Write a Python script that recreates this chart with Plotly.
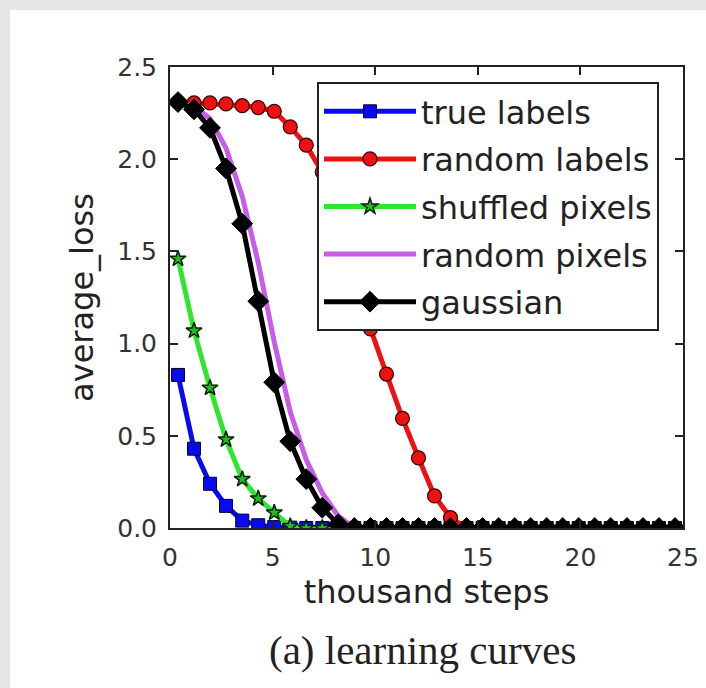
import plotly.graph_objects as go

# thousand steps (one point per epoch)
steps = [0.39, 1.17, 1.95, 2.73, 3.52, 4.30, 5.08, 5.86, 6.64, 7.42, 8.20, 8.98,
         9.77, 10.55, 11.33, 12.11, 12.89, 13.67, 14.45, 15.23, 16.02, 16.80,
         17.58, 18.36, 19.14, 19.92, 20.70, 21.48, 22.27, 23.05, 23.83, 24.61]

true_labels = [0.83, 0.43, 0.24, 0.12, 0.04, 0.015, 0.005, 0.002, 0.0, 0.0, 0.0, 0.0,
               0.0, 0.0, 0.0, 0.0, 0.0, 0.0, 0.0, 0.0, 0.0, 0.0,
               0.0, 0.0, 0.0, 0.0, 0.0, 0.0, 0.0, 0.0, 0.0, 0.0]
random_labels = [2.31, 2.305, 2.305, 2.30, 2.29, 2.28, 2.26, 2.175, 2.076, 1.93, 1.71, 1.40,
                 1.08, 0.835, 0.594, 0.38, 0.174, 0.056, 0.0, 0.0, 0.0, 0.0,
                 0.0, 0.0, 0.0, 0.0, 0.0, 0.0, 0.0, 0.0, 0.0, 0.0]
shuffled_pixels = [1.46, 1.07, 0.76, 0.48, 0.265, 0.16, 0.083, 0.01, 0.0, 0.0, 0.0, 0.0,
                   0.0, 0.0, 0.0, 0.0, 0.0, 0.0, 0.0, 0.0, 0.0, 0.0,
                   0.0, 0.0, 0.0, 0.0, 0.0, 0.0, 0.0, 0.0, 0.0, 0.0]
random_pixels = [2.31, 2.29, 2.22, 2.06, 1.80, 1.44, 1.01, 0.63, 0.37, 0.19, 0.065, 0.0,
                 0.0, 0.0, 0.0, 0.0, 0.0, 0.0, 0.0, 0.0, 0.0, 0.0,
                 0.0, 0.0, 0.0, 0.0, 0.0, 0.0, 0.0, 0.0, 0.0, 0.0]
gaussian = [2.31, 2.27, 2.17, 1.95, 1.65, 1.23, 0.79, 0.47, 0.265, 0.11, 0.02, 0.0,
            0.0, 0.0, 0.0, 0.0, 0.0, 0.0, 0.0, 0.0, 0.0, 0.0,
            0.0, 0.0, 0.0, 0.0, 0.0, 0.0, 0.0, 0.0, 0.0, 0.0]

x_ticks = [0, 5, 10, 15, 20, 25]
y_ticks = [0.0, 0.5, 1.0, 1.5, 2.0, 2.5]
y_tick_text = ["0.0", "0.5", "1.0", "1.5", "2.0", "2.5"]

W, H = 706, 688
L, R, T, B = 170, 23, 67, 160
pw, ph = W - L - R, H - T - B

def px(xp):
    return (xp - L) / pw

def py(yp):
    return (H - B - yp) / ph

fig = go.Figure()

fig.add_trace(go.Scatter(
    x=steps, y=true_labels, name="true labels", mode="lines+markers", legendgroup="a",
    line=dict(color="#0a0af0", width=5),
    marker=dict(symbol="square", size=13, color="#0a0af0", line=dict(color="#000033", width=1))))
fig.add_trace(go.Scatter(
    x=steps, y=random_labels, name="random labels", mode="lines+markers", legendgroup="b",
    line=dict(color="#ee1111", width=5),
    marker=dict(symbol="circle", size=14, color="#ee1111", line=dict(color="#330000", width=1.2))))
fig.add_trace(go.Scatter(
    x=steps, y=shuffled_pixels, name="shuffled pixels", mode="lines+markers", legendgroup="c",
    line=dict(color="#2ee62e", width=5),
    marker=dict(symbol="star", size=12, color="#22bb22", line=dict(color="#002200", width=1.5))))
fig.add_trace(go.Scatter(
    x=steps, y=random_pixels, name="random pixels", mode="lines", legendgroup="d",
    line=dict(color="#c75ce8", width=5)))
fig.add_trace(go.Scatter(
    x=steps, y=gaussian, name="gaussian", mode="lines+markers", legendgroup="e",
    line=dict(color="#000000", width=5),
    marker=dict(symbol="diamond", size=16, color="#000000", line=dict(color="#000000", width=1))))

axis_common = dict(
    showline=True, linewidth=2, linecolor="#222222", mirror="ticks",
    ticks="inside", ticklen=8, tickwidth=1.5, tickcolor="#222222",
    showgrid=False, zeroline=False,
    tickfont=dict(family="DejaVu Sans", size=25, color="#333333"),
)

fig.update_xaxes(range=[0, 25], tickvals=x_ticks, ticktext=[str(v) for v in x_ticks],
                 title=dict(text="thousand steps", standoff=10,
                            font=dict(family="DejaVu Sans", size=32, color="#222222")),
                 ticklabelstandoff=6, **axis_common)
fig.update_yaxes(range=[0, 2.5], tickvals=y_ticks, ticktext=y_tick_text,
                 title=dict(text="average_loss", standoff=14,
                            font=dict(family="DejaVu Sans", size=32, color="#222222")),
                 ticklabelstandoff=6, **axis_common)

fig.update_layout(
    width=W, height=H,
    margin=dict(l=L, r=R, t=T, b=B, autoexpand=False),
    paper_bgcolor="#e6e6e6",
    plot_bgcolor="#ffffff",
    font=dict(family="DejaVu Sans", color="#222222"),
    showlegend=True,
    legend=dict(
        x=px(317), y=py(82), xanchor="left", yanchor="top",
        bgcolor="#ffffff", bordercolor="#222222", borderwidth=2,
        font=dict(family="DejaVu Sans", size=32, color="#222222"),
        tracegroupgap=3, itemwidth=92, itemsizing="trace",
    ),
    shapes=[dict(type="rect", xref="paper", yref="paper", layer="below",
                 x0=px(10), x1=px(W + 5), y0=py(H + 5), y1=py(10),
                 fillcolor="#ffffff", line=dict(width=0))],
    annotations=[dict(text="(a) learning curves", xref="paper", yref="paper",
                      x=px(422), y=py(650), xanchor="center", yanchor="middle",
                      showarrow=False,
                      font=dict(family="Liberation Serif", size=41, color="#222222"))],
)

fig.write_html("out.html", config={"displayModeBar": False},
               post_script="document.body.style.margin='0px';document.body.style.padding='0px';")
